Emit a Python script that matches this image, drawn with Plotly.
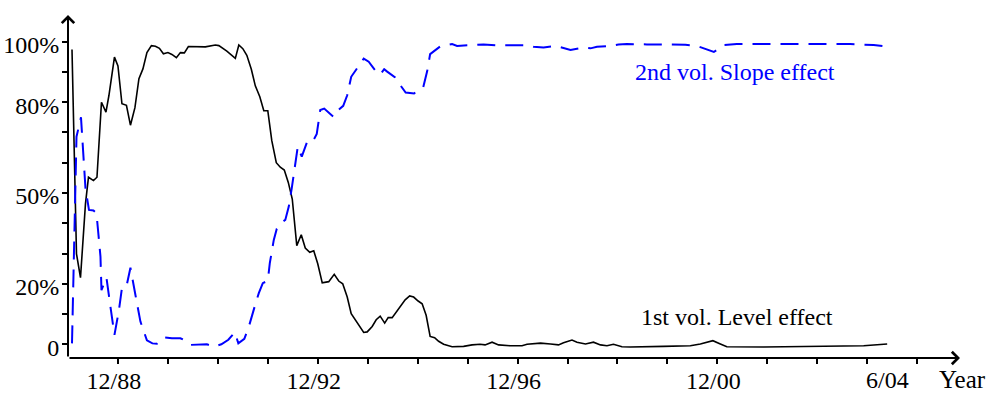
import plotly.graph_objects as go

# Decomposition of the volatility into its two components (share, %)
# x values are decimal years; the tick labelled "12/88" sits at the end of 1988.
level_year = [
    1988.08, 1988.17, 1988.25, 1988.35, 1988.41, 1988.51, 1988.58, 1988.67, 1988.76, 1988.82,
    1988.93, 1989.00, 1989.08, 1989.17, 1989.25, 1989.34, 1989.42, 1989.50, 1989.58, 1989.67,
    1989.75, 1989.83, 1989.91, 1990.00, 1990.08, 1990.17, 1990.25, 1990.33, 1990.41, 1990.58,
    1990.75, 1990.95, 1991.02, 1991.18, 1991.35, 1991.42, 1991.50, 1991.58, 1991.67, 1991.75,
    1991.84, 1991.92, 1992.00, 1992.08, 1992.17, 1992.25, 1992.33, 1992.41, 1992.49, 1992.58,
    1992.67, 1992.75, 1992.84, 1992.92, 1993.00, 1993.09, 1993.22, 1993.33, 1993.42, 1993.50,
    1993.59, 1993.67, 1993.75, 1993.82, 1993.92, 1993.99, 1994.09, 1994.17, 1994.25, 1994.34,
    1994.41, 1994.49, 1994.59, 1994.67, 1994.75, 1994.84, 1994.92, 1995.01, 1995.09, 1995.17,
    1995.25, 1995.34, 1995.42, 1995.52, 1995.69, 1995.92, 1996.09, 1996.25, 1996.35, 1996.49,
    1996.62, 1996.85, 1997.09, 1997.19, 1997.46, 1997.66, 1997.82, 1997.92, 1998.09, 1998.19,
    1998.36, 1998.52, 1998.66, 1998.79, 1998.92, 1999.09, 1999.26, 1999.92, 2000.46, 2000.66,
    2000.91, 2001.06, 2001.19, 2001.93, 2003.26, 2003.93, 2004.40,
]
level_share = [
    97.4, 29.9, 22.0, 46.5, 55.2, 54.1, 55.2, 80.0, 76.7, 82.3,
    94.9, 92.0, 79.5, 79.0, 72.4, 78.2, 87.8, 91.0, 96.4, 98.7,
    98.5, 97.8, 96.0, 96.4, 95.8, 94.7, 96.4, 96.3, 98.4, 98.4,
    98.3, 98.9, 98.7, 96.9, 94.5, 98.9, 97.7, 95.5, 90.9, 85.4,
    81.8, 77.2, 77.2, 67.3, 60.0, 58.5, 57.6, 53.5, 48.0, 32.6,
    36.2, 31.8, 30.4, 30.9, 26.6, 20.3, 20.7, 23.1, 20.9, 20.0,
    15.6, 10.1, 8.1, 6.3, 3.9, 4.1, 5.9, 8.1, 9.3, 7.0,
    8.8, 8.8, 11.0, 12.9, 14.7, 16.0, 15.6, 14.3, 13.4, 9.6,
    2.6, 2.2, 1.0, 0.0, -0.8, -0.7, -0.2, 0.0, -0.2, 0.7,
    -0.2, -0.5, -0.5, 0.0, 0.4, 0.1, -0.2, 0.5, 1.4, 0.7,
    0.1, 0.7, -0.2, -0.5, 0.0, -0.8, -0.9, -0.7, -0.5, 0.1,
    1.2, 0.1, -0.8, -0.9, -0.8, -0.5, 0.1,
]

slope_year = [
    1988.08, 1988.17, 1988.26, 1988.35, 1988.42, 1988.51, 1988.57, 1988.65, 1988.67, 1988.77,
    1988.85, 1988.93, 1989.02, 1989.08, 1989.17, 1989.25, 1989.35, 1989.45, 1989.58, 1989.69,
    1989.78, 1989.92, 1990.08, 1990.25, 1990.34, 1990.45, 1990.78, 1990.91, 1991.07, 1991.21,
    1991.34, 1991.41, 1991.53, 1991.62, 1991.75, 1991.82, 1991.90, 1992.00, 1992.04, 1992.12,
    1992.18, 1992.28, 1992.35, 1992.42, 1992.48, 1992.55, 1992.60, 1992.68, 1992.78, 1992.85,
    1992.92, 1992.98, 1993.05, 1993.13, 1993.32, 1993.42, 1993.51, 1993.59, 1993.67, 1993.82,
    1993.92, 1994.02, 1994.16, 1994.25, 1994.33, 1994.39, 1994.55, 1994.65, 1994.76, 1994.93,
    1995.03, 1995.11, 1995.19, 1995.25, 1995.32, 1995.45, 1995.57, 1995.69, 1995.79, 1996.05,
    1996.32, 1996.59, 1996.92, 1997.19, 1997.32, 1997.52, 1997.76, 1997.92, 1998.06, 1998.32,
    1998.46, 1998.59, 1998.86, 1999.02, 1999.19, 1999.59, 2000.06, 2000.36, 2000.59, 2000.79,
    2000.93, 2001.13, 2001.39, 2002.66, 2003.66, 2004.13, 2004.40,
]
slope_share = [
    0.3, 68.6, 75.0, 51.5, 44.4, 44.2, 43.3, 29.0, 17.9, 22.0,
    12.4, 3.1, 11.3, 18.6, 19.1, 25.3, 16.3, 7.5, 1.3, 0.3,
    0.2, 2.3, 2.0, 2.0, 1.3, -0.2, 0.0, -0.8, 0.0, 1.5,
    4.0, 0.3, 1.8, 5.8, 13.2, 16.9, 20.2, 21.0, 26.8, 34.5,
    38.2, 40.3, 41.1, 45.5, 51.6, 59.8, 65.3, 62.0, 66.6, 68.0,
    67.6, 69.5, 77.4, 77.9, 75.1, 77.5, 78.8, 82.3, 88.4, 92.0,
    94.4, 93.4, 90.3, 89.1, 90.9, 90.1, 88.2, 85.7, 83.2, 82.9,
    84.2, 84.8, 90.2, 95.9, 96.7, 98.4, 98.8, 99.2, 98.6, 98.9,
    99.1, 98.8, 98.9, 98.8, 98.3, 98.1, 98.6, 97.8, 97.3, 98.1,
    97.8, 98.3, 98.6, 99.1, 99.2, 99.1, 99.0, 99.0, 98.6, 97.3,
    96.6, 98.9, 99.2, 99.2, 99.2, 98.9, 98.4,
]

y_ticks = [0, 10, 20, 30, 40, 50, 60, 70, 80, 90, 100]
y_labels = ["0", "", "20%", "", "", "50%", "", "", "80%", "", "100%"]
x_ticks = list(range(1989, 2006))
x_labels = ["12/88", "", "", "", "12/92", "", "", "", "12/96", "", "", "", "12/00", "", "", "", ""]

X_MIN, X_MAX = 1988.0, 2005.858
Y_MIN, Y_MAX = -4.53, 108.82

FONT = "Liberation Serif, Times New Roman, serif"
BLUE = "#0000ff"
SIZE = 24

fig = go.Figure()
fig.add_trace(go.Scatter(
    x=level_year, y=level_share, mode="lines",
    line=dict(color="black", width=1.6), cliponaxis=False, showlegend=False,
))
fig.add_trace(go.Scatter(
    x=slope_year, y=slope_share, mode="lines",
    line=dict(color=BLUE, width=2, dash="18px,10px"), cliponaxis=False, showlegend=False,
))

# main axes carry labels and the outer half of each tick; the overlays add the inner half
common = dict(showgrid=False, zeroline=False, showline=False, automargin=False,
              tickmode="array", tickwidth=1.8, tickcolor="black")
fig.update_layout(
    width=990, height=393,
    margin=dict(l=68, r=30, t=15, b=35),
    paper_bgcolor="white", plot_bgcolor="white",
    font=dict(family=FONT, size=SIZE, color="black"),
    xaxis=dict(range=[X_MIN, X_MAX], tickvals=x_ticks, ticktext=x_labels,
               ticks="outside", ticklen=5, ticklabelshift=-4, ticklabelstandoff=-4, **common),
    xaxis2=dict(range=[X_MIN, X_MAX], overlaying="x", anchor="y", side="bottom",
                showticklabels=False, tickvals=x_ticks,
                ticks="inside", ticklen=5, **common),
    yaxis=dict(range=[Y_MIN, Y_MAX], tickvals=y_ticks, ticktext=y_labels,
               ticks="outside", ticklen=5, ticklabelshift=3, ticklabelstandoff=-2, **common),
    yaxis2=dict(range=[Y_MIN, Y_MAX], overlaying="y", anchor="x", side="left",
                showticklabels=False, tickvals=y_ticks,
                ticks="inside", ticklen=3, **common),
)

# axis lines with arrowheads
fig.add_annotation(x=X_MAX, y=Y_MIN, ax=X_MIN, ay=Y_MIN, xref="x", yref="y",
                   axref="x", ayref="y", text="", showarrow=True,
                   arrowhead=4, arrowsize=1.2, arrowwidth=2, arrowcolor="black")
fig.add_annotation(x=X_MIN, y=Y_MAX, ax=X_MIN, ay=Y_MIN, xref="x", yref="y",
                   axref="x", ayref="y", text="", showarrow=True,
                   arrowhead=4, arrowsize=1.2, arrowwidth=2, arrowcolor="black")

fig.add_annotation(x=2004.40, y=-0.064, xref="x", yref="paper", text="6/04",
                   showarrow=False, xanchor="center", yanchor="middle",
                   font=dict(family=FONT, size=SIZE, color="black"))
fig.add_annotation(x=2005.40, y=-0.062, xref="x", yref="paper", text="Year",
                   showarrow=False, xanchor="left", yanchor="middle",
                   font=dict(family=FONT, size=25, color="black"))
fig.add_annotation(x=1999.32, y=90.0, xref="x", yref="y", text="2nd vol. Slope effect",
                   showarrow=False, xanchor="left", yanchor="middle",
                   font=dict(family=FONT, size=SIZE, color=BLUE))
fig.add_annotation(x=1999.44, y=9.0, xref="x", yref="y", text="1st vol. Level effect",
                   showarrow=False, xanchor="left", yanchor="middle",
                   font=dict(family=FONT, size=SIZE, color="black"))

fig.write_html("out.html")
